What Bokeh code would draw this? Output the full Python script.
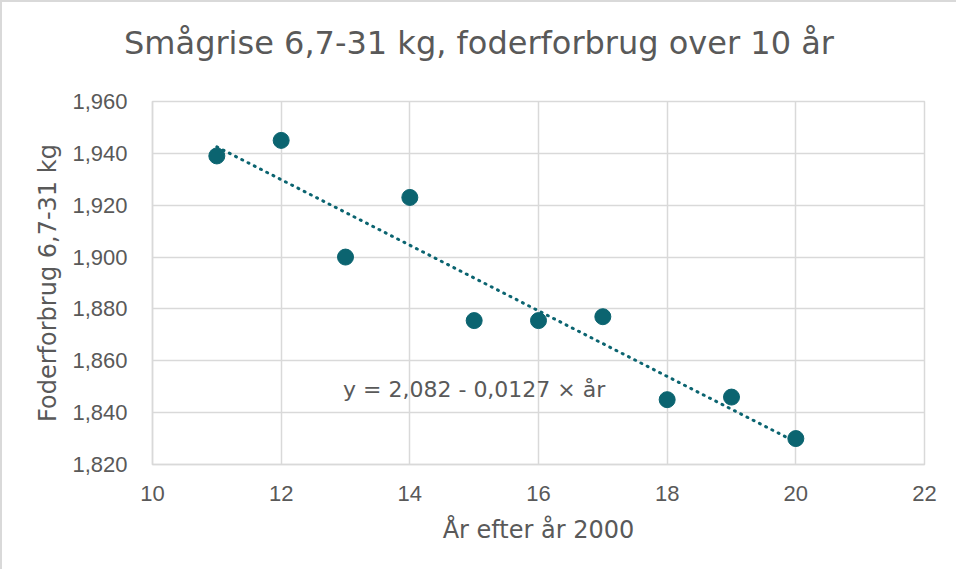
from bokeh.plotting import figure
from bokeh.models import ColumnDataSource, Range1d, Label, CustomJSTickFormatter, FixedTicker, Div
from bokeh.layouts import column
from bokeh.embed import file_html
from bokeh.resources import INLINE
import numpy as np

# data
years = [11, 12, 13, 14, 15, 16, 17, 18, 19, 20]
feed = [1.939, 1.945, 1.900, 1.923, 1.8755, 1.8755, 1.877, 1.845, 1.846, 1.830]
x_ticks = [10, 12, 14, 16, 18, 20, 22]
y_ticks = [1.82, 1.84, 1.86, 1.88, 1.90, 1.92, 1.94, 1.96]
equation = "y = 2,082 - 0,0127 × år"
title_text = "Smågrise 6,7-31 kg, foderforbrug over 10 år"

TEAL = "#0b6470"
GRAY_TXT = "#595959"
GRID = "#d9d9d9"
FONT = "Liberation Sans"
WIDE = "DejaVu Sans"

slope, intercept = np.polyfit(years, feed, 1)
trend_x = [years[0], years[-1]]
trend_y = [intercept + slope * v for v in trend_x]

TITLE_H = 60
p = figure(width=954, height=567 - TITLE_H, output_backend="svg", toolbar_location=None,
           x_range=Range1d(10, 22), y_range=Range1d(1.82, 1.96),
           min_border_left=150, min_border_right=32, min_border_top=99 - TITLE_H,
           min_border_bottom=105, margin=0)
p.outline_line_color = GRID
p.outline_line_width = 1.5

p.line(trend_x, trend_y, line_color=TEAL, line_width=3, line_dash="1 6", line_cap="round")
src = ColumnDataSource(dict(x=years, y=feed))
p.scatter("x", "y", source=src, size=16, fill_color=TEAL, line_color=TEAL)

p.add_layout(Label(x=15, y=1.849, text=equation,
                   text_align="center", text_baseline="middle", text_font=WIDE,
                   text_font_size="22px", text_color=GRAY_TXT))

for ax in (p.xaxis, p.yaxis):
    ax.axis_line_color = GRID
    ax.axis_line_width = 1.5
    ax.major_tick_line_color = None
    ax.minor_tick_line_color = None
    ax.major_label_text_font = FONT
    ax.major_label_text_font_size = "22px"
    ax.major_label_text_color = GRAY_TXT
    ax.axis_label_text_font = WIDE
    ax.axis_label_text_font_size = "24px"
    ax.axis_label_text_font_style = "normal"
    ax.axis_label_text_color = GRAY_TXT

p.xaxis.ticker = FixedTicker(ticks=x_ticks)
p.yaxis.ticker = FixedTicker(ticks=y_ticks)
p.yaxis.formatter = CustomJSTickFormatter(code="return tick.toFixed(3).replace('.', ',');")
p.xaxis.major_label_standoff = 15
p.yaxis.major_label_standoff = 19
p.xaxis.axis_label_standoff = 12
p.yaxis.axis_label_standoff = 7
p.xaxis.axis_label = "År efter år 2000"
p.yaxis.axis_label = "Foderforbrug 6,7-31 kg"

p.xgrid.grid_line_color = GRID
p.ygrid.grid_line_color = GRID
p.xgrid.grid_line_width = 1.5
p.ygrid.grid_line_width = 1.5
p.xgrid.ticker = FixedTicker(ticks=x_ticks)
p.ygrid.ticker = FixedTicker(ticks=y_ticks)

title_div = Div(text=f'<div style="padding-top:19px; white-space:nowrap; text-align:center">{title_text}</div>',
                width=954, height=TITLE_H, margin=0,
                styles={"font-family": WIDE, "font-size": "32px", "color": GRAY_TXT,
                        "text-align": "center", "background": "white"})

layout = column(title_div, p, spacing=0,
                styles={"border-left": "2px solid #d9d9d9", "border-top": "2px solid #d9d9d9"})

open("out.html", "w").write(file_html(layout, INLINE))
